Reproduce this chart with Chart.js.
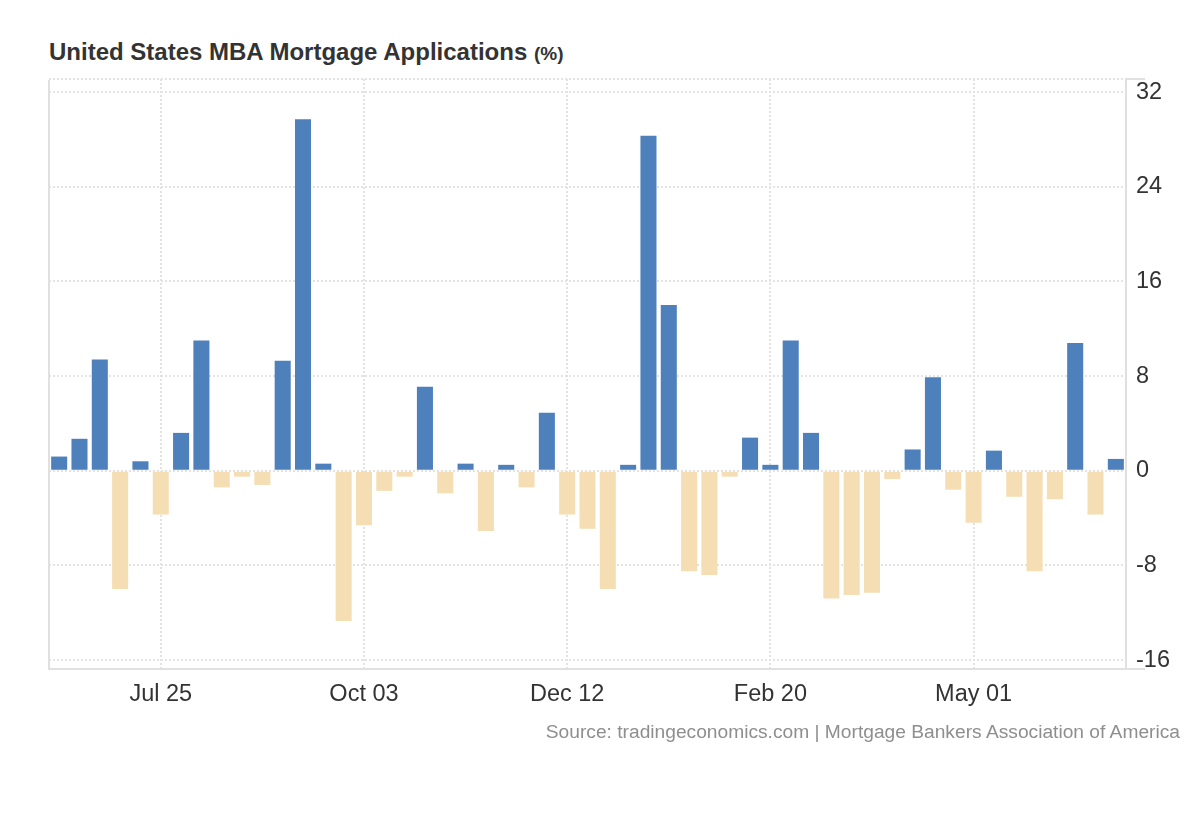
<!DOCTYPE html>
<html>
<head>
<meta charset="utf-8">
<title>United States MBA Mortgage Applications</title>
<script src="https://cdn.jsdelivr.net/npm/chart.js@4/dist/chart.umd.min.js"></script>
<style>
  html, body { margin: 0; padding: 0; background: #fff; }
  body { width: 1200px; height: 820px; position: relative; overflow: hidden; font-family: 'Liberation Sans', Arial, sans-serif; }
  #title { position: absolute; left: 49px; top: 40px; font-size: 24px; line-height: 24px; font-weight: bold; color: #333; white-space: nowrap; }
  #title small { font-size: 19px; }
  #source { position: absolute; right: 20px; top: 722px; font-size: 19.2px; line-height: 19px; color: #8e8e8e; white-space: nowrap; }
  #chart { position: absolute; left: 0; top: 0; }
</style>
</head>
<body>
<div id="title">United States MBA Mortgage Applications <small>(%)</small></div>
<canvas id="chart" width="1200" height="820"></canvas>
<div id="source">Source: tradingeconomics.com | Mortgage Bankers Association of America</div>

<script>
// Données (variation hebdomadaire, %)
const weeks = [
  'Jun 20', 'Jun 27', 'Jul 04', 'Jul 11', 'Jul 18', 'Jul 25', 'Aug 01', 'Aug 08', 'Aug 15', 'Aug 22',
  'Aug 29', 'Sep 05', 'Sep 12', 'Sep 19', 'Sep 26', 'Oct 03', 'Oct 10', 'Oct 17', 'Oct 24', 'Oct 31',
  'Nov 07', 'Nov 14', 'Nov 21', 'Nov 28', 'Dec 05', 'Dec 12', 'Dec 19', 'Dec 26', 'Jan 02', 'Jan 09',
  'Jan 16', 'Jan 23', 'Jan 30', 'Feb 06', 'Feb 13', 'Feb 20', 'Feb 27', 'Mar 06', 'Mar 13', 'Mar 20',
  'Mar 27', 'Apr 03', 'Apr 10', 'Apr 17', 'Apr 24', 'May 01', 'May 08', 'May 15', 'May 22', 'May 29',
  'Jun 05', 'Jun 12', 'Jun 19'
];

const changes = [
  1.2, 2.7, 9.4, -10.0, 0.8, -3.7, 3.2, 11.0, -1.4, -0.5,
  -1.2, 9.3, 29.7, 0.6, -12.7, -4.6, -1.7, -0.5, 7.1, -1.9,
  0.6, -5.1, 0.5, -1.4, 4.9, -3.7, -4.9, -10.0, 0.5, 28.3,
  14.0, -8.5, -8.8, -0.5, 2.8, 0.5, 11.0, 3.2, -10.8, -10.5,
  -10.3, -0.7, 1.8, 7.9, -1.6, -4.4, 1.7, -2.2, -8.5, -2.4,
  10.8, -3.7, 1.0
];

const xTickLabels = ['Jul 25', 'Oct 03', 'Dec 12', 'Feb 20', 'May 01'];
const yTicks = [-16, -8, 0, 8, 16, 24, 32];
const yMin = -16.75;
const yMax = 33.1;

const COLORS = {
  up: '#4e80bc',
  down: '#f5deb3',
  grid: '#e3e3e3',
  axis: '#e0e0e0',
  text: '#333333'
};

const FONT = { family: "'Liberation Sans', Arial, sans-serif", size: 23.5 };

// Cadre : bord gauche et prolongements à droite
const framePlugin = {
  id: 'frame',
  afterDraw(chart) {
    const { ctx, chartArea: a } = chart;
    ctx.save();
    ctx.strokeStyle = COLORS.axis;
    ctx.lineWidth = 2;
    ctx.beginPath();
    ctx.moveTo(a.left, a.top + 1);
    ctx.lineTo(a.left, a.bottom);
    ctx.moveTo(a.right, a.top);
    ctx.lineTo(a.right + 19, a.top);
    ctx.moveTo(a.right, a.bottom);
    ctx.lineTo(a.right + 19, a.bottom);
    ctx.stroke();
    ctx.restore();
  }
};

new Chart(document.getElementById('chart'), {
  type: 'bar',
  data: {
    labels: weeks,
    datasets: [{
      data: changes,
      backgroundColor: (c) => (c.raw >= 0 ? COLORS.up : COLORS.down),
      barPercentage: 0.79,
      categoryPercentage: 1.0,
      borderWidth: 0
    }]
  },
  options: {
    responsive: false,
    animation: false,
    layout: { padding: { left: 49, top: 79, right: 0, bottom: 105 } },
    plugins: { legend: { display: false }, tooltip: { enabled: false } },
    scales: {
      x: {
        offset: true,
        grid: {
          offset: false,
          drawTicks: false,
          lineWidth: 2,
          color: (c) => (c.tick && xTickLabels.includes(weeks[c.index]) ? COLORS.grid : 'transparent')
        },
        border: { display: true, color: COLORS.axis, width: 2, dash: [2, 2] },
        ticks: {
          autoSkip: false,
          maxRotation: 0,
          padding: 11,
          color: COLORS.text,
          font: FONT,
          callback: (v, i) => (xTickLabels.includes(weeks[i]) ? weeks[i] : '')
        },
        afterFit: (s) => { s.height = 46; }
      },
      y: {
        position: 'right',
        min: yMin,
        max: yMax,
        afterBuildTicks: (s) => {
          s.ticks = [yMin, ...yTicks, yMax].map((v) => ({ value: v }));
        },
        grid: {
          drawTicks: false,
          lineWidth: 2,
          color: (c) => (c.tick && c.tick.value === yMin ? 'transparent' : COLORS.grid)
        },
        border: { display: true, color: COLORS.axis, width: 2, dash: [2, 2] },
        ticks: {
          padding: 10,
          color: COLORS.text,
          font: FONT,
          callback: (v) => (yTicks.includes(v) ? String(v) : '')
        },
        afterFit: (s) => { s.width = 74; }
      }
    }
  },
  plugins: [framePlugin]
});
</script>
</body>
</html>
